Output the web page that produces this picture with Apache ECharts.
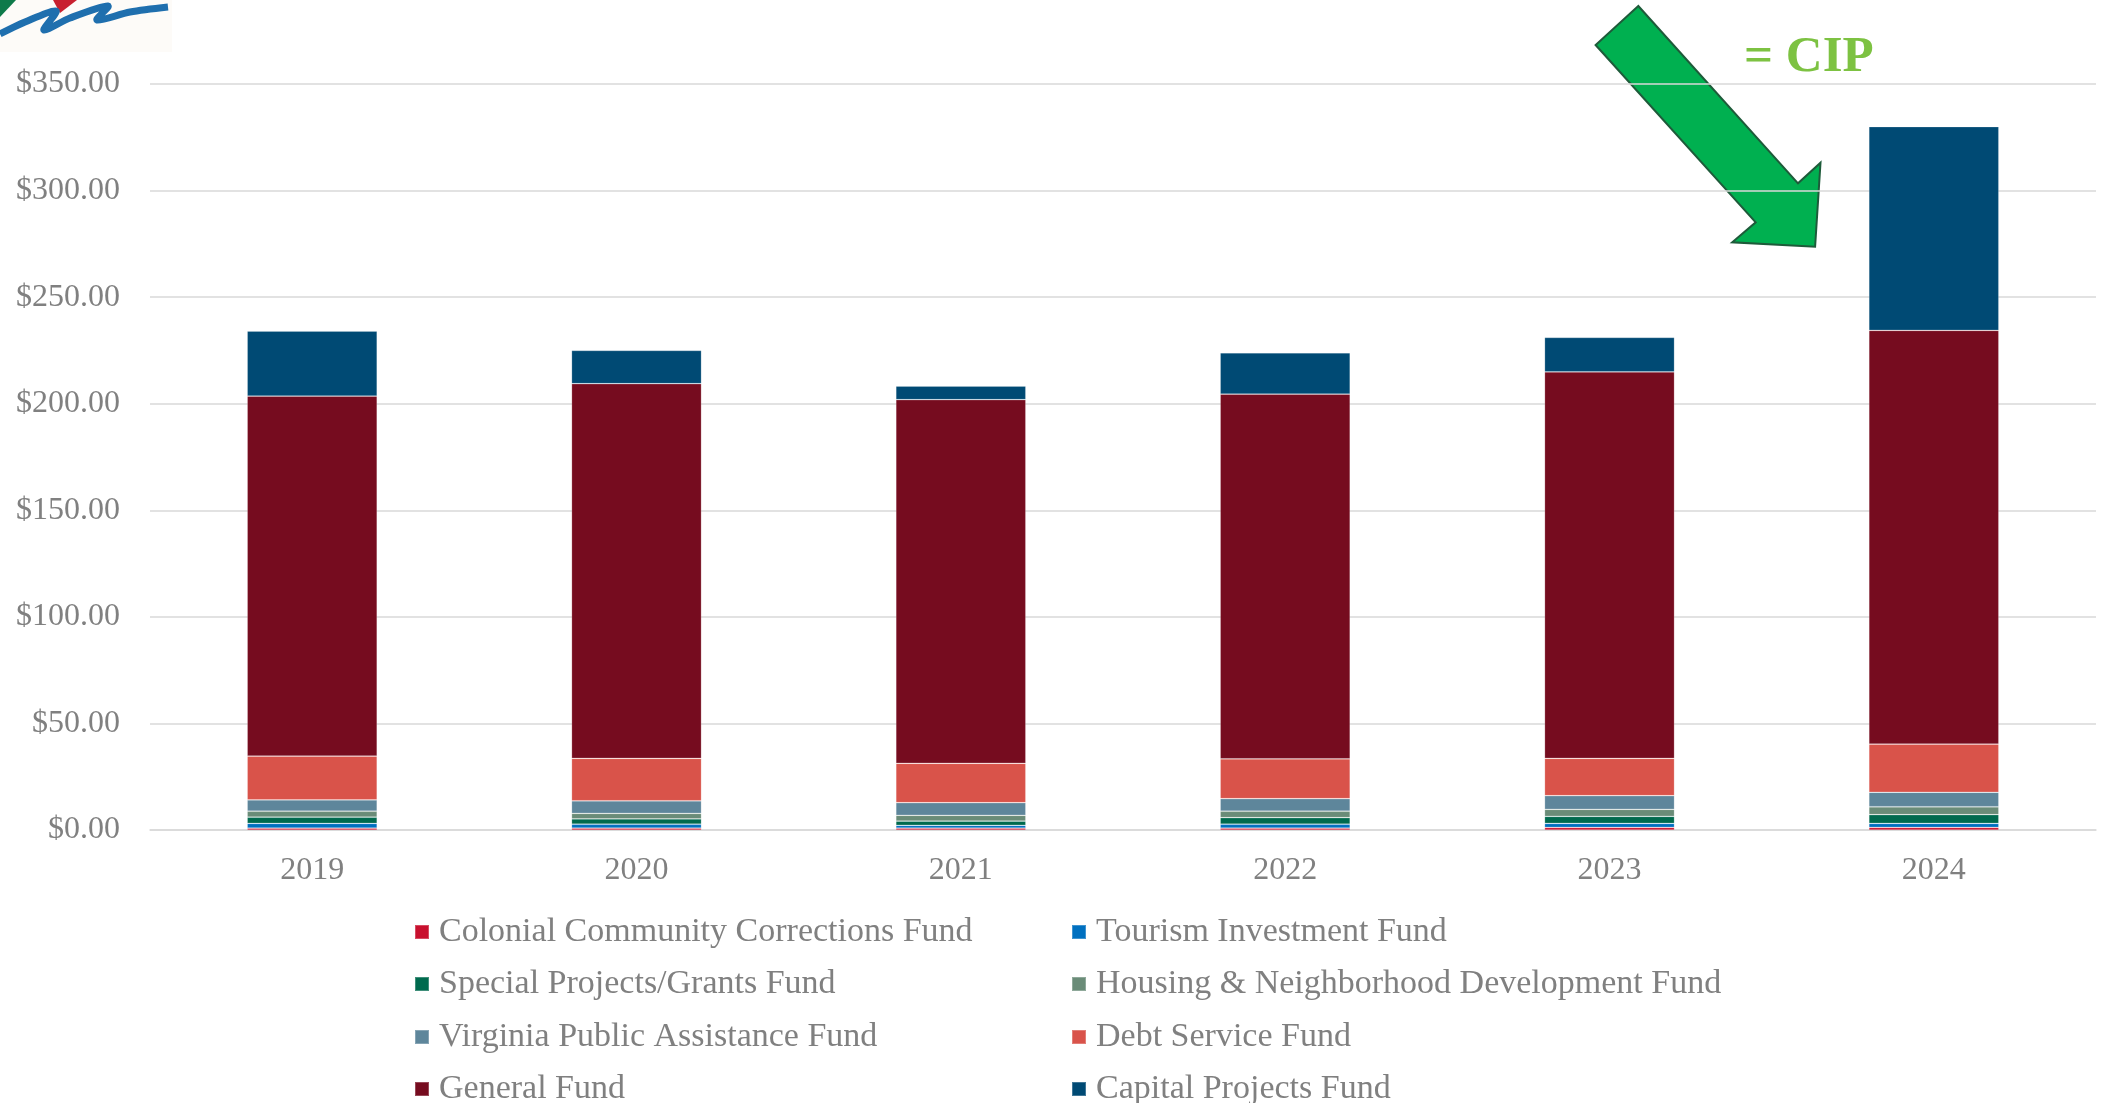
<!DOCTYPE html>
<html>
<head>
<meta charset="utf-8">
<script src="https://cdn.jsdelivr.net/npm/echarts@6/dist/echarts.min.js"></script>
<style>
  html, body { margin: 0; padding: 0; background: #ffffff; }
  #chart { width: 2108px; height: 1103px; }
</style>
</head>
<body>
<div id="chart"></div>
<script>
// Fiscal years
const years = ['2019', '2020', '2021', '2022', '2023', '2024'];

// Fund amounts (millions of dollars), stacked bottom to top
const colonialCommunityCorrections = [0.9, 0.9, 0.9, 0.9, 1.2, 1.2];
const tourismInvestment = [2.2, 1.8, 1.3, 1.8, 1.9, 1.9];
const specialProjectsGrants = [2.9, 2.5, 2.0, 3.1, 3.3, 4.1];
const housingNeighborhood = [2.8, 2.6, 2.7, 3.0, 3.3, 3.7];
const virginiaPublicAssistance = [5.3, 5.9, 5.9, 5.9, 6.4, 6.8];
const debtService = [20.6, 19.9, 18.5, 18.7, 17.5, 22.6];
const generalFund = [168.9, 175.8, 170.6, 171.1, 181.3, 194.1];
const capitalProjects = [30.5, 15.6, 6.4, 19.4, 16.2, 95.6];

const seriesNames = [
  'Colonial Community Corrections Fund',
  'Tourism Investment Fund',
  'Special Projects/Grants Fund',
  'Housing & Neighborhood Development Fund',
  'Virginia Public Assistance Fund',
  'Debt Service Fund',
  'General Fund',
  'Capital Projects Fund'
];
const seriesValues = [
  colonialCommunityCorrections, tourismInvestment, specialProjectsGrants,
  housingNeighborhood, virginiaPublicAssistance, debtService, generalFund, capitalProjects
];
const seriesColors = ['#C8102E', '#0070C0', '#006A4E', '#6A8C78', '#5E869B', '#D9534A', '#760C1F', '#004A74'];

const FONT = '"Liberation Serif", "Times New Roman", serif';
const GREY = '#808080';

const chart = echarts.init(document.getElementById('chart'), null, { renderer: 'canvas' });

// Legend laid out as a two-column grid: one legend block per entry
const legendColumnsX = [414, 1071];
const legendRowsY = [915, 967, 1020, 1072];
const legends = seriesNames.map((name, i) => ({
  data: [name],
  left: legendColumnsX[i % 2],
  top: legendRowsY[Math.floor(i / 2)],
  itemWidth: 14, itemHeight: 14, itemGap: 12,
  padding: 0,
  icon: 'rect',
  selectedMode: false,
  textStyle: { color: GREY, fontFamily: FONT, fontSize: 34, padding: [0, 0, 0, 5] }
}));

chart.setOption({
  backgroundColor: '#ffffff',
  animation: false,
  grid: { left: 150, right: 12, top: 84, bottom: 273 },
  xAxis: {
    type: 'category',
    data: years,
    axisLine: { lineStyle: { color: '#d9d9d9', width: 1.5 } },
    axisTick: { show: false },
    axisLabel: { color: GREY, fontFamily: FONT, fontSize: 32, margin: 25 }
  },
  yAxis: {
    type: 'value',
    min: 0,
    max: 350,
    interval: 50,
    axisLine: { show: false },
    axisTick: { show: false },
    splitLine: { lineStyle: { color: '#d9d9d9', width: 1.5 } },
    axisLabel: {
      color: GREY, fontFamily: FONT, fontSize: 32, margin: 30,
      formatter: v => '$' + v.toFixed(2)
    }
  },
  legend: legends,
  series: seriesNames.map((name, i) => ({
    name: name,
    type: 'bar',
    stack: 'funds',
    barWidth: 130,
    data: seriesValues[i],
    itemStyle: {
      color: seriesColors[i],
      borderColor: 'rgba(255,255,255,0.25)',
      borderWidth: 0.75
    }
  })),
  graphic: [
    // partial logo at the top-left corner
    { type: 'rect', left: 0, top: 0, shape: { width: 172, height: 52 }, style: { fill: '#fdfbf8' }, silent: true },
    { type: 'polygon', shape: { points: [[0, 0], [16, 0], [0, 17]] }, style: { fill: '#0E7A4A' }, silent: true },
    { type: 'polygon', shape: { points: [[53, 0], [77, 0], [60, 13]] }, style: { fill: '#C8202F' }, silent: true },
    {
      type: 'polyline', silent: true,
      shape: {
        points: [[0, 34], [25, 22], [56, 11], [44, 30], [70, 18], [108, 6], [97, 20], [130, 12], [168, 7]],
        smooth: 0.3
      },
      style: { fill: 'none', stroke: '#1F6FAE', lineWidth: 7 }
    },
    // annotation arrow pointing at the 2024 capital projects
    {
      type: 'polygon', silent: true,
      shape: {
        points: [
          [1638.3, 6], [1595.6, 45], [1755.7, 222.3], [1732.2, 242.3],
          [1815.1, 246.7], [1820.5, 162.7], [1798.0, 183.3]
        ]
      },
      style: { fill: '#00B050', stroke: '#1E5B3A', lineWidth: 2 }
    },
    {
      type: 'text', silent: true,
      style: {
        text: '= CIP', x: 1744, y: 58,
        font: 'bold 51px ' + FONT, fill: '#7DC242',
        textAlign: 'left', textVerticalAlign: 'middle'
      }
    }
  ]
});
</script>
</body>
</html>
